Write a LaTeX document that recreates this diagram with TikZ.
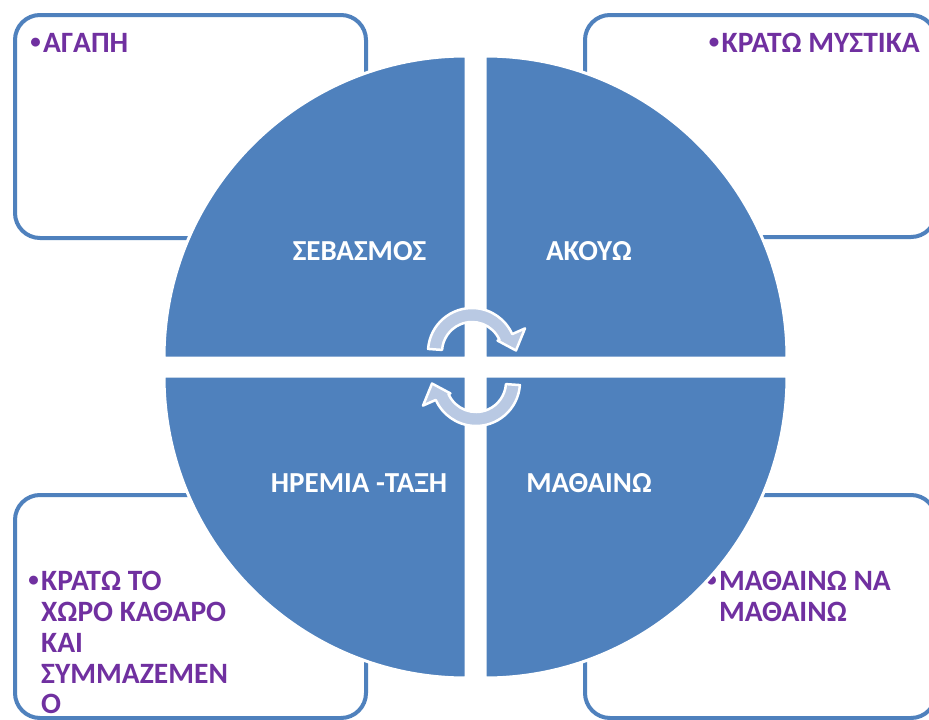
\documentclass[tikz,border=0pt]{standalone}
\usepackage{fontspec}
\setmainfont{Carlito}
\definecolor{pieblue}{RGB}{79,129,189}
\definecolor{boxblue}{RGB}{79,129,189}
\definecolor{txtpurple}{RGB}{112,48,160}
\definecolor{arrfill}{RGB}{185,201,227}
\begin{document}
\begin{tikzpicture}[x=1pt,y=-1pt,
  box/.style={draw=boxblue, line width=4pt, rounded corners=25pt, fill=white},
  pie/.style={fill=pieblue, draw=white, line width=3pt},
  lbl/.style={text=white, font=\fontsize{29}{30}\selectfont\bfseries, anchor=base, inner sep=0pt},
  itm/.style={text=txtpurple, font=\fontsize{29.5}{31}\selectfont\bfseries, inner sep=0pt, anchor=base west},
  bul/.style={text=txtpurple, font=\fontsize{21}{21}\selectfont\bfseries, inner sep=0pt, anchor=base east, xshift=-2pt, yshift=4pt},
  cyc/.style={fill=arrfill, draw=white, line width=2.5pt, line join=round}]
\useasboundingbox (0,0) rectangle (929,720);
\clip (0,0) rectangle (929,720);
\fill[white] (0,0) rectangle (929,720);
% boxes
\draw[box] (15,15) rectangle (366,238);
\draw[box] (585,15) rectangle (936,237);
\draw[box] (15,495) rectangle (366,718);
\draw[box] (585,495) rectangle (936,718);
% box texts
\node[itm] (t1) at (43,52) {ΑΓΑΠΗ};
\node[bul] (b1) at (t1.base west) {•};
\node[itm, anchor=base east] (t2) at (920,52) {ΚΡΑΤΩ ΜΥΣΤΙΚΑ};
\node[bul] (b2) at (t2.base west) {•};
\node[itm] (t3a) at (41,590) {ΚΡΑΤΩ ΤΟ};
\node[bul] (b3) at (t3a.base west) {•};
\node[itm] (t3b) at (41,621) {ΧΩΡΟ ΚΑΘΑΡΟ};
\node[itm] (t3c) at (41,652) {ΚΑΙ};
\node[itm] (t3d) at (41,683) {ΣΥΜΜΑΖΕΜΕΝ};
\node[itm] (t3e) at (41,713) {Ο};
\node[itm] (t4a) at (719,590) {ΜΑΘΑΙΝΩ ΝΑ};
\node[bul] (b4) at (t4a.base west) {•};
\node[itm] (t4b) at (719,621) {ΜΑΘΑΙΝΩ};
% quarter pies
\draw[pie] (466,358) -- ++(-302pt,0pt) arc[start angle=180,end angle=90,radius=302pt] -- cycle;
\draw[pie] (485,358) -- ++(302pt,0pt) arc[start angle=0,end angle=90,radius=302pt] -- cycle;
\draw[pie] (466,376) -- ++(-302pt,0pt) arc[start angle=180,end angle=270,radius=302pt] -- cycle;
\draw[pie] (485,376) -- ++(302pt,0pt) arc[start angle=0,end angle=-90,radius=302pt] -- cycle;
% labels
\node[lbl] (l1) at (359.5,260) {ΣΕΒΑΣΜΟΣ};
\node[lbl] (l2) at (589,260) {ΑΚΟΥΩ};
\node[lbl] (l3) at (359,492) {ΗΡΕΜΙΑ -ΤΑΞΗ};
\node[lbl] (l4) at (589,492) {ΜΑΘΑΙΝΩ};
% circular arrows
\begin{scope}[shift={(472,352)}]
\draw[cyc] (176:44pt) arc[start angle=176,end angle=24,radius=44pt] -- (24:58pt) -- (2:44pt) -- (24:28pt) -- (24:30pt) arc[start angle=24,end angle=176,radius=30pt] -- cycle;
\end{scope}
\begin{scope}[shift={(476,382)}, rotate=180]
\draw[cyc] (176:44pt) arc[start angle=176,end angle=24,radius=44pt] -- (24:58pt) -- (2:44pt) -- (24:28pt) -- (24:30pt) arc[start angle=24,end angle=176,radius=30pt] -- cycle;
\end{scope}
\end{tikzpicture}
\end{document}
